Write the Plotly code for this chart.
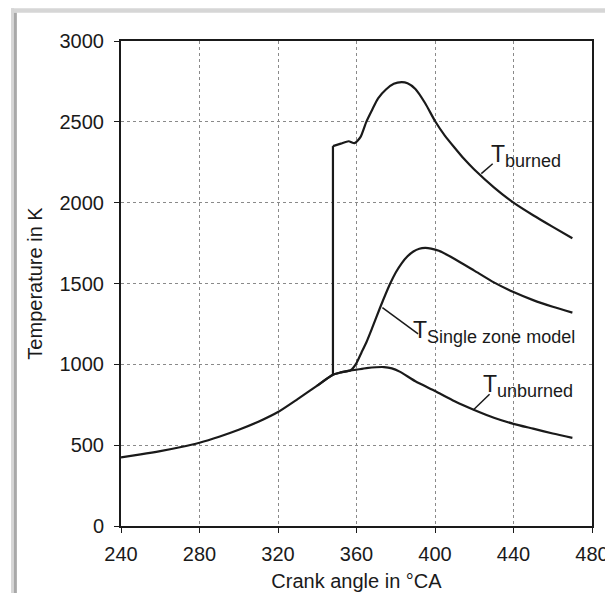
import plotly.graph_objects as go

# ---- data ----
ca_unburned = [240, 250, 260, 270, 280, 290, 300, 310, 320, 330, 340, 348, 352, 356, 360,
               365, 370, 374, 378, 382, 390, 400, 410, 420, 430, 440, 450, 460, 470]
T_unburned = [425, 443, 463, 487, 515, 552, 595, 645, 705, 785, 868, 935, 950, 960, 967,
              976, 982, 983, 975, 955, 895, 835, 772, 718, 670, 632, 602, 572, 545]

ca_burned = [348, 348, 352, 356, 359, 362, 365, 368, 371, 375, 379, 383, 386, 390, 395,
             400, 405, 410, 415, 420, 430, 440, 450, 460, 470]
T_burned = [940, 2350, 2365, 2380, 2368, 2405, 2500, 2575, 2645, 2700, 2735, 2745, 2738,
            2703, 2615, 2505, 2415, 2340, 2268, 2205, 2095, 2000, 1922, 1850, 1780]

ca_single = [340, 348, 352, 357, 360, 362.5, 365, 368, 372, 377, 380, 383, 386, 389, 392,
             395, 398, 402, 410, 420, 430, 440, 450, 460, 470]
T_single = [868, 935, 950, 963, 1008, 1072, 1135, 1225, 1350, 1495, 1568, 1625, 1668, 1698,
            1715, 1720, 1716, 1702, 1652, 1580, 1507, 1447, 1397, 1356, 1320]

x_ticks = [240, 280, 320, 360, 400, 440, 480]
y_ticks = [0, 500, 1000, 1500, 2000, 2500, 3000]

label_main = ["T", "T", "T"]
label_sub = ["burned", "Single zone model", "unburned"]
label_pos = [(427.4, 2393), (387.8, 1307), (423.5, 970)]
leaders = [((423.6, 2180), (429.4, 2241)),
           ((373.2, 1351), (391.4, 1188)),
           ((419.5, 718), (427.8, 815))]

FONT = "Liberation Sans, Arial, sans-serif"
INK = "#1a1a1a"
LINE = dict(color=INK, width=2.2)

fig = go.Figure()
# T unburned and single zone
for xs, ys in [(ca_unburned, T_unburned), (ca_single, T_single)]:
    fig.add_trace(go.Scatter(x=xs, y=ys, mode="lines",
                             line=dict(**LINE, shape="spline", smoothing=0.6),
                             showlegend=False, hoverinfo="skip"))
# T burned: vertical jump (straight) + smooth rest
fig.add_trace(go.Scatter(x=ca_burned[:2], y=T_burned[:2], mode="lines",
                         line=dict(**LINE), showlegend=False, hoverinfo="skip"))
fig.add_trace(go.Scatter(x=ca_burned[1:], y=T_burned[1:], mode="lines",
                         line=dict(**LINE, shape="spline", smoothing=0.6),
                         showlegend=False, hoverinfo="skip"))

for (p0, p1) in leaders:
    fig.add_shape(type="line", xref="x", yref="y", x0=p0[0], y0=p0[1], x1=p1[0], y1=p1[1],
                  line=dict(color=INK, width=1.5))

for m, s, (lx, ly) in zip(label_main, label_sub, label_pos):
    fig.add_annotation(x=lx, y=ly, xref="x", yref="y",
                       text=f'{m}<sub><span style="font-size:18px">{s}</span></sub>',
                       showarrow=False, xanchor="left", yanchor="top",
                       font=dict(family=FONT, size=23, color=INK))

# gray frame strips (top and left) of the reference image
W, H = 613, 593
L, R, T, B = 113, 16, 33, 71
pw, ph = W - L - R, H - T - B
def px(x):
    return (x - L) / pw
def py(y):
    return (H - B - y) / ph
fig.add_shape(type="rect", xref="paper", yref="paper", x0=px(0), x1=px(W), y0=py(4.5), y1=py(0),
              line=dict(width=0), fillcolor="#d6d6d6")
fig.add_shape(type="rect", xref="paper", yref="paper", x0=px(0), x1=px(3), y0=py(H), y1=py(0),
              line=dict(width=0), fillcolor="#d6d6d6")
fig.add_shape(type="rect", xref="paper", yref="paper", x0=px(3), x1=px(6), y0=py(H), y1=py(4.5),
              line=dict(width=0), fillcolor="#a8a8a8")

axis_common = dict(showline=True, linecolor=INK, linewidth=2, mirror=True,
                   ticks="outside", ticklen=5, tickcolor=INK, tickwidth=1,
                   showgrid=True, gridcolor="#8a8a8a", gridwidth=1, griddash="dot",
                   zeroline=False, tickfont=dict(family=FONT, size=20, color=INK),
                   ticklabeloverflow="allow")

fig.update_xaxes(range=[240, 480], tickvals=x_ticks, ticklabelstandoff=4,
                 title=dict(text="Crank angle in °CA", font=dict(family=FONT, size=20, color=INK), standoff=10),
                 **axis_common)
fig.update_yaxes(range=[0, 3000], tickvals=y_ticks, ticklabelstandoff=6,
                 title=dict(text="Temperature in K", font=dict(family=FONT, size=20, color=INK), standoff=12),
                 **axis_common)

fig.update_layout(width=W, height=H, margin=dict(l=L, r=R, t=T, b=B, pad=0),
                  paper_bgcolor="white", plot_bgcolor="white",
                  font=dict(family=FONT, color=INK))

fig.write_html("out.html")
